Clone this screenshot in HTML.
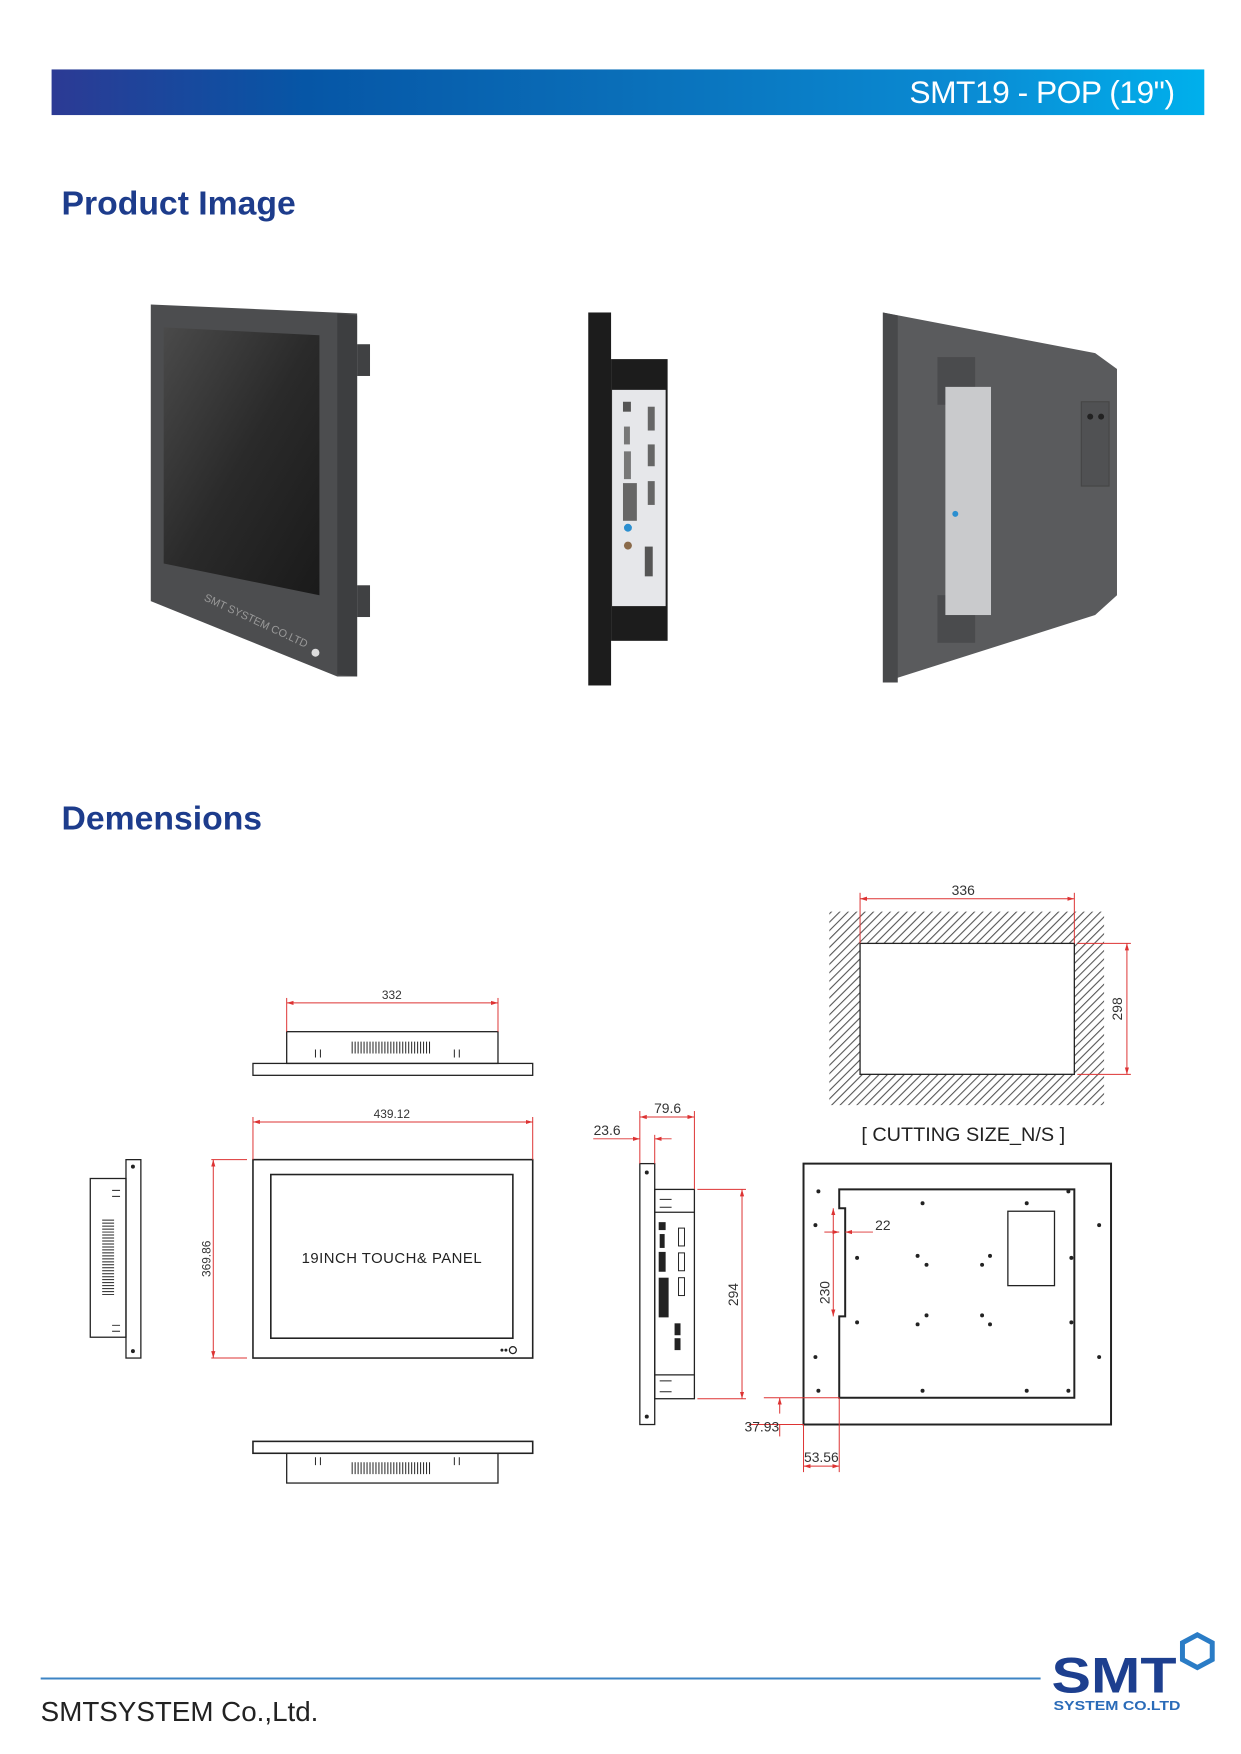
<!DOCTYPE html>
<html><head><meta charset="utf-8">
<style>
html,body{margin:0;padding:0;background:#fff;}
body{width:1241px;height:1754px;position:relative;overflow:hidden;font-family:"Liberation Sans",sans-serif;}
#w{position:absolute;left:0;top:0;width:1241px;height:1754px;transform:scale(0.992);transform-origin:0 0;}
.bar{position:absolute;left:52px;top:70px;width:1162px;height:46px;background:linear-gradient(90deg,#2c3a94 0%,#0656a6 22%,#0a6fb9 50%,#0a8cd4 80%,#00b0ec 100%);}
.bar span{position:absolute;right:30px;top:5px;color:#fff;font-size:32px;letter-spacing:-0.5px;}
.h{position:absolute;left:62px;color:#1d3c8c;font-weight:bold;font-size:34px;}
svg{position:absolute;left:0;top:0;}
</style></head><body><div id="w">
<div class="bar"><span>SMT19 - POP (19")</span></div>
<div class="h" style="top:186px">Product Image</div>
<div class="h" style="top:806px">Demensions</div>

<svg width="1241" height="1754" viewBox="0 0 1241 1754">
<defs>
<linearGradient id="scr" x1="0" y1="0" x2="1" y2="1"><stop offset="0" stop-color="#4a4a4a"/><stop offset="0.5" stop-color="#2a2a2a"/><stop offset="1" stop-color="#1a1a1a"/></linearGradient>
<pattern id="hat" width="6" height="6" patternUnits="userSpaceOnUse" patternTransform="rotate(45)"><rect width="6" height="6" fill="#fff"/><line x1="0" y1="0" x2="0" y2="6" stroke="#555" stroke-width="2.2"/></pattern>
<marker id="a" viewBox="0 0 10 10" refX="10" refY="5" markerWidth="7" markerHeight="7" orient="auto-start-reverse"><path d="M0,2 L10,5 L0,8z" fill="#d33"/></marker>
</defs>

<!-- product front -->
<polygon points="152,307 360,316 360,682 340,682 152,606" fill="#4c4d4f"/>
<polygon points="340,316 360,318 360,682 340,680" fill="#3d3e40"/>
<polygon points="165,330 322,338 322,600 165,568" fill="url(#scr)"/>
<rect x="360" y="347" width="13" height="32" fill="#404143"/>
<rect x="360" y="590" width="13" height="32" fill="#404143"/>
<circle cx="318" cy="658" r="4" fill="#ddd"/>
<text x="205" y="605" font-size="11" fill="#999" transform="rotate(25 205 605)">SMT SYSTEM CO.LTD</text>

<!-- product side -->
<rect x="593" y="315" width="23" height="376" fill="#1c1c1c"/>
<rect x="616" y="362" width="57" height="284" fill="#1c1c1c"/>
<rect x="617" y="393" width="54" height="218" fill="#e6e7ea"/>
<rect x="628" y="405" width="8" height="10" fill="#555"/>
<rect x="653" y="410" width="7" height="24" fill="#666"/>
<rect x="629" y="430" width="6" height="18" fill="#777"/>
<rect x="653" y="448" width="7" height="22" fill="#666"/>
<rect x="629" y="455" width="7" height="28" fill="#777"/>
<rect x="628" y="487" width="14" height="38" fill="#666"/>
<rect x="653" y="485" width="7" height="24" fill="#666"/>
<circle cx="633" cy="532" r="4" fill="#2b8fd0"/>
<circle cx="633" cy="550" r="4" fill="#8a6a4a"/>
<rect x="650" y="551" width="8" height="30" fill="#555"/>

<!-- product rear -->
<polygon points="890,315 1104,356 1126,372 1126,600 1104,620 890,688" fill="#5a5b5d"/>
<polygon points="890,315 905,318 905,688 890,688" fill="#48494b"/>
<rect x="945" y="360" width="38" height="48" fill="#4a4b4d"/>
<rect x="945" y="600" width="38" height="48" fill="#4a4b4d"/>
<rect x="953" y="390" width="46" height="230" fill="#c9cacc"/>
<rect x="1090" y="405" width="28" height="85" fill="#505153" stroke="#444"/>
<circle cx="1099" cy="420" r="3" fill="#222"/><circle cx="1110" cy="420" r="3" fill="#222"/>
<circle cx="963" cy="518" r="3" fill="#2b8fd0"/>

<!-- drawings -->
<g fill="none" stroke="#222" stroke-width="1.3">
<rect x="289" y="1040" width="213" height="32"/>
<rect x="255" y="1072" width="282" height="12"/>
<rect x="255" y="1169" width="282" height="200" stroke-width="1.6"/>
<rect x="273" y="1184" width="244" height="165" stroke-width="1.6"/>
<circle cx="517" cy="1361" r="3.5"/>
<rect x="127" y="1169" width="15" height="200"/>
<rect x="91" y="1188" width="36" height="160"/>
<rect x="255" y="1453" width="282" height="12" stroke-width="1.6"/>
<rect x="289" y="1465" width="213" height="30"/>
<rect x="645" y="1173" width="15" height="263"/>
<rect x="660" y="1199" width="40" height="211"/>
<line x1="660" y1="1222" x2="700" y2="1222"/><line x1="660" y1="1386" x2="700" y2="1386"/>
<rect x="810" y="1173" width="310" height="263" stroke-width="2"/>
<path d="M846,1199 H1083 V1409 H846 V1327 H852 V1218 H846 Z" stroke-width="2"/>
<rect x="1016" y="1221" width="47" height="75"/>
</g>
<path d="M836,919 H1113 V1114 H836 Z M867,951 V1083 H1083 V951 Z" fill="url(#hat)" fill-rule="evenodd"/>
<rect x="867" y="951" width="216" height="132" fill="none" stroke="#222" stroke-width="1.3"/>

<g stroke="#222" stroke-width="1">
<path d="M355,1050 v12 M358,1050 v12 M361,1050 v12 M364,1050 v12 M367,1050 v12 M370,1050 v12 M373,1050 v12 M376,1050 v12 M379,1050 v12 M382,1050 v12 M385,1050 v12 M388,1050 v12 M391,1050 v12 M394,1050 v12 M397,1050 v12 M400,1050 v12 M403,1050 v12 M406,1050 v12 M409,1050 v12 M412,1050 v12 M415,1050 v12 M418,1050 v12 M421,1050 v12 M424,1050 v12 M427,1050 v12 M430,1050 v12 M433,1050 v12"/>
<path d="M355,1474 v12 M358,1474 v12 M361,1474 v12 M364,1474 v12 M367,1474 v12 M370,1474 v12 M373,1474 v12 M376,1474 v12 M379,1474 v12 M382,1474 v12 M385,1474 v12 M388,1474 v12 M391,1474 v12 M394,1474 v12 M397,1474 v12 M400,1474 v12 M403,1474 v12 M406,1474 v12 M409,1474 v12 M412,1474 v12 M415,1474 v12 M418,1474 v12 M421,1474 v12 M424,1474 v12 M427,1474 v12 M430,1474 v12 M433,1474 v12"/>
<path d="M103,1230 h12 M103,1233 h12 M103,1236 h12 M103,1239 h12 M103,1242 h12 M103,1245 h12 M103,1248 h12 M103,1251 h12 M103,1254 h12 M103,1257 h12 M103,1260 h12 M103,1263 h12 M103,1266 h12 M103,1269 h12 M103,1272 h12 M103,1275 h12 M103,1278 h12 M103,1281 h12 M103,1284 h12 M103,1287 h12 M103,1290 h12 M103,1293 h12 M103,1296 h12 M103,1299 h12 M103,1302 h12 M103,1305 h12"/>
<path d="M318,1058 v8 M323,1058 v8 M458,1058 v8 M463,1058 v8 M318,1469 v8 M323,1469 v8 M458,1469 v8 M463,1469 v8 M113,1200 h8 M113,1206 h8 M113,1336 h8 M113,1342 h8"/>
<path d="M665,1209 h12 M665,1217 h12 M665,1392 h12 M665,1403 h12"/>
</g>
<g fill="#222">
<circle cx="134" cy="1176" r="2"/><circle cx="134" cy="1362" r="2"/>
<circle cx="652" cy="1182" r="2"/><circle cx="652" cy="1428" r="2"/>
<rect x="664" y="1232" width="7" height="8"/><rect x="665" y="1244" width="5" height="14"/>
<rect x="664" y="1262" width="7" height="20"/>
<rect x="664" y="1288" width="10" height="40"/>
<rect x="684" y="1238" width="6" height="18" fill="none" stroke="#222"/><rect x="684" y="1263" width="6" height="18" fill="none" stroke="#222"/><rect x="684" y="1288" width="6" height="18" fill="none" stroke="#222"/>
<rect x="680" y="1334" width="6" height="12"/><rect x="680" y="1349" width="6" height="12"/>
<circle cx="825" cy="1201" r="2"/><circle cx="930" cy="1213" r="2"/><circle cx="1035" cy="1213" r="2"/><circle cx="1077" cy="1201" r="2"/>
<circle cx="822" cy="1235" r="2"/><circle cx="1108" cy="1235" r="2"/><circle cx="822" cy="1368" r="2"/><circle cx="1108" cy="1368" r="2"/>
<circle cx="864" cy="1268" r="2"/><circle cx="1080" cy="1268" r="2"/><circle cx="864" cy="1333" r="2"/><circle cx="1080" cy="1333" r="2"/>
<circle cx="925" cy="1266" r="2"/><circle cx="934" cy="1275" r="2"/><circle cx="998" cy="1266" r="2"/><circle cx="990" cy="1275" r="2"/>
<circle cx="925" cy="1335" r="2"/><circle cx="934" cy="1326" r="2"/><circle cx="998" cy="1335" r="2"/><circle cx="990" cy="1326" r="2"/>
<circle cx="825" cy="1402" r="2"/><circle cx="930" cy="1402" r="2"/><circle cx="1035" cy="1402" r="2"/><circle cx="1077" cy="1402" r="2"/>
<circle cx="506" cy="1361" r="1.5"/><circle cx="510" cy="1361" r="1.5"/>
</g>

<g stroke="#d33" stroke-width="1" fill="none">
<line x1="289" y1="1011" x2="502" y2="1011" marker-start="url(#a)" marker-end="url(#a)"/>
<line x1="289" y1="1006" x2="289" y2="1040"/><line x1="502" y1="1006" x2="502" y2="1040"/>
<line x1="255" y1="1131" x2="537" y2="1131" marker-start="url(#a)" marker-end="url(#a)"/>
<line x1="255" y1="1126" x2="255" y2="1169"/><line x1="537" y1="1126" x2="537" y2="1169"/>
<line x1="215" y1="1169" x2="215" y2="1369" marker-start="url(#a)" marker-end="url(#a)"/>
<line x1="213" y1="1169" x2="249" y2="1169"/><line x1="213" y1="1369" x2="249" y2="1369"/>
<line x1="867" y1="906" x2="1083" y2="906" marker-start="url(#a)" marker-end="url(#a)"/>
<line x1="867" y1="900" x2="867" y2="951"/><line x1="1083" y1="900" x2="1083" y2="951"/>
<line x1="1136" y1="951" x2="1136" y2="1083" marker-start="url(#a)" marker-end="url(#a)"/>
<line x1="1086" y1="951" x2="1140" y2="951"/><line x1="1086" y1="1083" x2="1140" y2="1083"/>
<line x1="645" y1="1126" x2="700" y2="1126" marker-start="url(#a)" marker-end="url(#a)"/>
<line x1="645" y1="1120" x2="645" y2="1173"/><line x1="700" y1="1120" x2="700" y2="1199"/>
<line x1="598" y1="1148" x2="645" y2="1148" marker-end="url(#a)"/><line x1="677" y1="1148" x2="660" y2="1148" marker-end="url(#a)"/>
<line x1="660" y1="1144" x2="660" y2="1173"/>
<line x1="748" y1="1199" x2="748" y2="1410" marker-start="url(#a)" marker-end="url(#a)"/>
<line x1="703" y1="1199" x2="752" y2="1199"/><line x1="703" y1="1410" x2="752" y2="1410"/>
<line x1="840" y1="1218" x2="840" y2="1327" marker-start="url(#a)" marker-end="url(#a)"/>
<line x1="831" y1="1242" x2="846" y2="1242" marker-end="url(#a)"/><line x1="880" y1="1242" x2="852" y2="1242" marker-end="url(#a)"/>
<line x1="786" y1="1425" x2="786" y2="1409" marker-end="url(#a)"/><line x1="786" y1="1436" x2="786" y2="1448"/>
<line x1="770" y1="1409" x2="846" y2="1409"/><line x1="755" y1="1436" x2="810" y2="1436"/>
<line x1="810" y1="1478" x2="846" y2="1478" marker-start="url(#a)" marker-end="url(#a)"/>
<line x1="810" y1="1436" x2="810" y2="1484"/><line x1="846" y1="1409" x2="846" y2="1484"/>
</g>
<g fill="#333" font-size="12" text-anchor="middle">
<text x="395" y="1007">332</text>
<text x="395" y="1127">439.12</text>
<text x="0" y="0" transform="translate(212,1269) rotate(-90)">369.86</text>
<text x="971" y="902" font-size="14">336</text>
<text x="0" y="0" font-size="14" transform="translate(1131,1017) rotate(-90)">298</text>
<text x="673" y="1122" font-size="14">79.6</text>
<text x="612" y="1144" font-size="14">23.6</text>
<text x="0" y="0" font-size="14" transform="translate(744,1305) rotate(-90)">294</text>
<text x="0" y="0" font-size="14" transform="translate(836,1303) rotate(-90)">230</text>
<text x="890" y="1240" font-size="14">22</text>
<text x="768" y="1443" font-size="14">37.93</text>
<text x="828" y="1474" font-size="14">53.56</text>
</g>
<text x="395" y="1273" text-anchor="middle" font-size="15" fill="#222" letter-spacing="0.5">19INCH TOUCH&amp; PANEL</text>
<text x="971" y="1150" text-anchor="middle" font-size="20" fill="#222">[ CUTTING SIZE_N/S ]</text>

<line x1="41" y1="1692" x2="1049" y2="1692" stroke="#3d84c4" stroke-width="2"/>
<text x="41" y="1735" font-size="28" fill="#222">SMTSYSTEM Co.,Ltd.</text>
<text x="1060" y="1706" font-size="50" font-weight="bold" fill="#1d3f8f" textLength="126" lengthAdjust="spacingAndGlyphs">SMT</text>
<text x="1062" y="1724" font-size="13" font-weight="bold" fill="#2a6bb8" textLength="128" lengthAdjust="spacingAndGlyphs">SYSTEM CO.LTD</text>
<polygon points="1207,1648 1222,1656 1222,1673 1207,1681 1192,1673 1192,1656" fill="none" stroke="#2a7cc6" stroke-width="5"/>
</svg>
</div></body></html>
